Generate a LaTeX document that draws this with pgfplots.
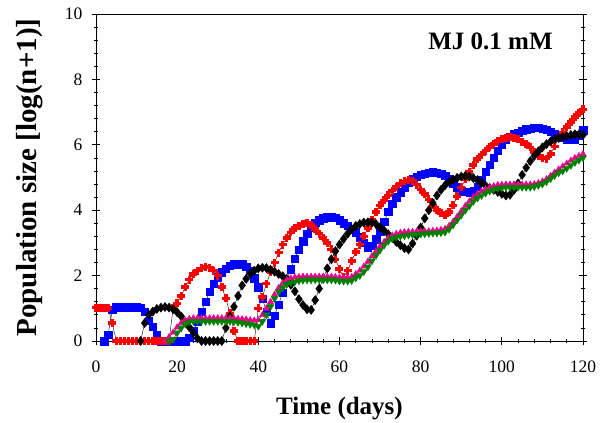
\documentclass[border=0pt]{standalone}
\usepackage{pgfplots}
\pgfplotsset{compat=1.18}
\usepackage{fontspec}
\setmainfont{Liberation Serif}
\definecolor{mgreen}{RGB}{0,128,0}
\begin{document}
\begin{tikzpicture}
\begin{axis}[
  scale only axis, width=487pt, height=327pt,
  xmin=0, xmax=120, ymin=0, ymax=10,
  xtick={0,20,...,120}, ytick={0,2,...,10},
  minor x tick num=4, minor y tick num=4,
  xtick pos=lower, ytick pos=both, yticklabel pos=left,
  tick align=center, major tick length=8pt, minor tick length=4pt,
  axis line style={line width=0.9pt}, tick style={line width=0.7pt,black},
  xticklabel={\fontsize{17.5}{19}\selectfont\pgfmathprintnumber[assume math mode=true]{\tick}},
  yticklabel={\fontsize{17.5}{19}\selectfont\pgfmathprintnumber[assume math mode=true]{\tick}},
  xticklabel style={yshift=-12pt},
  yticklabel style={xshift=-6pt},
  xlabel={\textbf{Time (days)}},
  ylabel={\textbf{Population size [log(n+1)]}},
  xlabel style={font=\fontsize{25}{27}\selectfont, at={(axis description cs:0.5,-0.205)}, anchor=center},
  ylabel style={font=\fontsize{29}{31}\selectfont, at={(axis description cs:-0.136,0.5)}, anchor=center, rotate=0},
  clip=false,
]
% blue squares
\addplot[black, line width=0.4pt, mark=square*, mark size=3.7pt, mark options={fill=blue, draw=blue, line width=0.3pt}] coordinates {
(2,0)(3,0.20)(4,0.95)(5,1.03)(6,1.04)(7,1.04)(8,1.04)(9,1.04)(10,1.04)(11,1.02)(12,0.90)(13,0.62)(14,0.43)(15,0.20)(16,0)(17,0)(18,0)(19,0)(20,0)(21,0)(22,0)
(23,0.10)(24,0.30)(25,0.60)(26,0.90)(27,1.20)(28,1.50)(29,1.75)(30,1.95)(31,2.10)(32,2.22)(33,2.30)(34,2.35)(35,2.37)(36,2.35)(37,2.28)(38,2.15)(39,1.92)(40,1.65)
(41,1.30)(42,0.90)(43,0.55)(44,0.78)(45,1.12)(46,1.48)(47,1.85)(48,2.20)(49,2.52)(50,2.80)(51,3.05)(52,3.28)(53,3.48)(54,3.62)(55,3.70)(56,3.76)(57,3.79)(58,3.80)
(59,3.77)(60,3.70)(61,3.60)(62,3.52)(63,3.43)(64,3.33)(65,3.18)(66,3.00)(67,2.87)(68,2.92)(69,3.12)(70,3.35)(71,3.65)(72,3.95)(73,4.20)(74,4.40)(75,4.55)(76,4.70)
(77,4.84)(78,4.95)(79,5.03)(80,5.08)(81,5.12)(82,5.15)(83,5.17)(84,5.15)(85,5.12)(86,5.06)(87,4.97)(88,4.82)(89,4.70)(90,4.60)(91,4.56)(92,4.55)(93,4.58)(94,4.72)
(95,4.92)(96,5.17)(97,5.40)(98,5.60)(99,5.82)(100,6.00)(101,6.15)(102,6.25)(103,6.32)(104,6.38)(105,6.44)(106,6.48)(107,6.50)(108,6.52)(109,6.52)(110,6.50)
(111,6.46)(112,6.40)(113,6.34)(114,6.28)(115,6.22)(116,6.17)(117,6.15)(118,6.15)(119,6.30)(120,6.45)
};
% red plus
\addplot[black, line width=0.4pt, mark=+, mark size=4pt, mark options={draw=red, line width=3.4pt}] coordinates {
(0,1.02)(1,1.02)(2,1.02)(3,1.00)(4,0.55)(5,0)(6,0)(7,0)(8,0)(9,0)(10,0)(11,0)(12,0)(13,0)(14,0)(15,0)(16,0)(17,0)(18,0)
(19,1.00)(20,1.15)(21,1.38)(22,1.65)(23,1.88)(24,2.05)(25,2.15)(26,2.22)(27,2.26)(28,2.24)(29,2.15)(30,2.00)(31,1.65)(32,1.30)(33,0.85)(34,0.30)
(35,0)(36,0)(37,0)(38,0)(39,0)(40,1.00)(41,1.35)(42,1.75)(43,2.10)(44,2.40)(45,2.70)(46,2.95)(47,3.15)(48,3.32)(49,3.45)(50,3.53)(51,3.58)(52,3.60)
(53,3.55)(54,3.42)(55,3.28)(56,3.15)(57,3.00)(58,2.80)(59,2.50)(60,2.20)(61,1.95)(62,2.15)(63,2.45)(64,2.72)(65,2.95)(66,3.20)(67,3.45)(68,3.70)(69,3.95)
(70,4.15)(71,4.30)(72,4.45)(73,4.60)(74,4.72)(75,4.82)(76,4.88)(77,4.92)(78,4.90)(79,4.78)(80,4.63)(81,4.50)(82,4.33)(83,4.15)(84,4.00)(85,3.90)(86,3.85)
(87,3.95)(88,4.15)(89,4.42)(90,4.70)(91,4.95)(92,5.17)(93,5.38)(94,5.57)(95,5.70)(96,5.82)(97,5.93)(98,6.03)(99,6.12)(100,6.18)(101,6.22)(102,6.24)
(103,6.22)(104,6.17)(105,6.10)(106,6.02)(107,5.92)(108,5.78)(109,5.67)(110,5.60)(111,5.58)(112,5.72)(113,5.95)(114,6.20)(115,6.38)(116,6.55)(117,6.70)
(118,6.85)(119,6.97)(120,7.08)
};
% black diamonds
\addplot[black, line width=0.4pt, mark=diamond*, mark size=4.6pt, mark options={fill=black, draw=black}] coordinates {
(11,0)(12,0.55)(13,0.80)(14,0.90)(15,0.98)(16,1.02)(17,1.04)(18,1.02)(19,0.97)(20,0.88)(21,0.75)(22,0.58)(23,0.42)(24,0.25)(25,0.08)
(26,0)(27,0)(28,0)(29,0)(30,0)(31,0)(32,0.40)(33,0.75)(34,1.05)(35,1.38)(36,1.70)(37,1.90)(38,2.06)(39,2.15)(40,2.22)(41,2.24)(42,2.23)(43,2.18)
(44,2.12)(45,2.05)(46,1.98)(47,1.90)(48,1.72)(49,1.52)(50,1.28)(51,1.10)(52,0.97)(53,0.95)(54,1.25)(55,1.60)(56,1.92)(57,2.22)(58,2.50)(59,2.75)
(60,2.95)(61,3.12)(62,3.28)(63,3.42)(64,3.52)(65,3.58)(66,3.62)(67,3.63)(68,3.62)(69,3.57)(70,3.48)(71,3.38)(72,3.27)(73,3.15)(74,3.03)(75,2.93)
(76,2.84)(77,2.80)(78,2.98)(79,3.22)(80,3.47)(81,3.75)(82,4.00)(83,4.22)(84,4.45)(85,4.62)(86,4.76)(87,4.86)(88,4.93)(89,4.99)(90,5.03)(91,5.05)
(92,5.03)(93,4.98)(94,4.92)(95,4.84)(96,4.75)(97,4.68)(98,4.62)(99,4.56)(100,4.50)(101,4.45)(102,4.47)(103,4.62)(104,4.82)(105,5.08)(106,5.30)
(107,5.50)(108,5.66)(109,5.80)(110,5.92)(111,6.02)(112,6.10)(113,6.17)(114,6.21)(115,6.24)(116,6.27)(117,6.30)(118,6.32)(119,6.32)(120,6.30)
};
% magenta triangles
\addplot[black, line width=0.4pt, mark=triangle*, mark size=3.6pt, mark options={fill=magenta, draw=magenta}] coordinates {
(17,0)(18,0.12)(19,0.26)(20,0.42)(21,0.55)(22,0.63)(23,0.68)(24,0.70)(25,0.70)(26,0.70)(27,0.70)(28,0.70)(29,0.70)(30,0.70)(31,0.70)(32,0.70)(33,0.70)
(34,0.69)(35,0.68)(36,0.67)(37,0.66)(38,0.64)(39,0.63)(40,0.64)(41,0.80)(42,1.00)(43,1.20)(44,1.42)(45,1.62)(46,1.77)(47,1.86)(48,1.92)(49,1.95)(50,1.96)
(51,1.97)(52,1.97)(53,1.97)(54,1.97)(55,1.97)(56,1.97)(57,1.97)(58,1.97)(59,1.96)(60,1.95)(61,1.94)(62,1.94)(63,1.96)(64,2.05)(65,2.15)(66,2.28)(67,2.43)
(68,2.60)(69,2.75)(70,2.90)(71,3.03)(72,3.15)(73,3.23)(74,3.28)(75,3.31)(76,3.33)(77,3.34)(78,3.34)(79,3.35)(80,3.35)(81,3.36)(82,3.36)(83,3.37)(84,3.38)
(85,3.40)(86,3.43)(87,3.52)(88,3.65)(89,3.80)(90,3.97)(91,4.13)(92,4.27)(93,4.40)(94,4.50)(95,4.58)(96,4.64)(97,4.70)(98,4.74)(99,4.77)(100,4.78)
(101,4.79)(102,4.79)(103,4.79)(104,4.79)(105,4.79)(106,4.79)(107,4.79)(108,4.80)(109,4.83)(110,4.88)(111,4.95)(112,5.05)(113,5.15)(114,5.25)(115,5.34)
(116,5.43)(117,5.52)(118,5.60)(119,5.66)(120,5.72)
};
% green inverted triangles
\addplot[black, line width=0.4pt, mark=triangle*, mark size=4pt, mark options={fill=mgreen, draw=mgreen, rotate=180}] coordinates {
(18,0)(19,0.05)(20,0.25)(21,0.40)(22,0.52)(23,0.58)(24,0.60)(25,0.60)(26,0.60)(27,0.60)(28,0.60)(29,0.60)(30,0.60)(31,0.60)(32,0.60)(33,0.60)
(34,0.59)(35,0.57)(36,0.55)(37,0.53)(38,0.51)(39,0.49)(40,0.45)(41,0.60)(42,0.80)(43,1.05)(44,1.30)(45,1.50)(46,1.63)(47,1.73)(48,1.78)(49,1.81)(50,1.84)
(51,1.86)(52,1.87)(53,1.87)(54,1.87)(55,1.87)(56,1.87)(57,1.87)(58,1.87)(59,1.86)(60,1.84)(61,1.83)(62,1.83)(63,1.85)(64,1.93)(65,2.00)(66,2.12)(67,2.27)
(68,2.45)(69,2.62)(70,2.78)(71,2.93)(72,3.05)(73,3.13)(74,3.17)(75,3.20)(76,3.22)(77,3.24)(78,3.25)(79,3.26)(80,3.27)(81,3.28)(82,3.29)(83,3.30)(84,3.30)
(85,3.31)(86,3.33)(87,3.42)(88,3.55)(89,3.70)(90,3.85)(91,4.00)(92,4.13)(93,4.27)(94,4.37)(95,4.45)(96,4.52)(97,4.58)(98,4.63)(99,4.66)(100,4.68)
(101,4.70)(102,4.70)(103,4.70)(104,4.70)(105,4.70)(106,4.70)(107,4.70)(108,4.72)(109,4.76)(110,4.80)(111,4.87)(112,4.96)(113,5.06)(114,5.14)(115,5.20)
(116,5.28)(117,5.37)(118,5.46)(119,5.53)(120,5.60)
};
\node[font=\fontsize{25}{27}\selectfont\bfseries] at (axis cs:97.2,9.15) {MJ 0.1 mM};
\end{axis}
\pgfresetboundingbox
\path[use as bounding box] ([xshift=-96pt,yshift=-82pt]current axis.south west) rectangle ([xshift=28pt,yshift=14pt]current axis.north east);
\end{tikzpicture}
\end{document}
